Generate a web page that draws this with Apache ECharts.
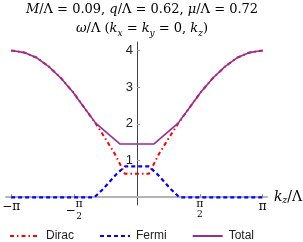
<!DOCTYPE html>
<html><head><meta charset="utf-8">
<script src="https://cdn.jsdelivr.net/npm/echarts@6/dist/echarts.min.js"></script>
<style>html,body{margin:0;padding:0;background:#fff}#c{width:303px;height:242px}</style>
</head><body><div id="c"></div>
<script>
var PI = Math.PI;
// k_z / Λ sample points and ω/Λ values
var diracK = [-PI, -2.8, -2.5, -2.2, -1.9, -1.6, -1.3, -1.03, -0.8, -0.55, -0.3, 0.3, 0.55, 0.8, 1.03, 1.3, 1.6, 1.9, 2.2, 2.5, 2.8, PI];
var diracW = [4.00, 3.94, 3.80, 3.56, 3.25, 2.87, 2.42, 2.01, 1.62, 1.18, 0.64, 0.64, 1.18, 1.62, 2.01, 2.42, 2.87, 3.25, 3.56, 3.80, 3.94, 4.00];
var fermiK = [-PI, -1.06, -0.85, -0.66, -0.5, -0.3, 0.3, 0.5, 0.66, 0.85, 1.06, PI];
var fermiW = [0, 0, 0.22, 0.45, 0.64, 0.84, 0.84, 0.64, 0.45, 0.22, 0, 0];
var totalK = [-PI, -2.8, -2.5, -2.2, -1.9, -1.6, -1.3, -1.03, -0.42, 0.42, 1.03, 1.3, 1.6, 1.9, 2.2, 2.5, 2.8, PI];
var totalW = [4.00, 3.94, 3.80, 3.56, 3.25, 2.87, 2.42, 2.02, 1.45, 1.45, 2.02, 2.42, 2.87, 3.25, 3.56, 3.80, 3.94, 4.00];
var xTicks = [-PI, -PI / 2, PI / 2, PI];
var xTickLabels = ['−π', '−π/2', 'π/2', 'π'];
var yTicks = [1, 2, 3, 4];
var seriesNames = ['Dirac', 'Fermi', 'Total'];
var titleText = '{i|M}{n|/Λ = 0.09, }{i|q}{n|/Λ = 0.62, }{i|μ}{n|/Λ = 0.72}\n{i|ω}{n|/Λ (}{i|k}{s|x}{n| = }{i|k}{s|y}{n| = 0, }{i|k}{s|z}{n|)}';

function pairs(k, w) { return k.map(function (v, i) { return [v, w[i]]; }); }

var serif = '"DejaVu Serif", "Liberation Serif", serif';
var sans = '"Liberation Sans", Arial, sans-serif';

function xLabel(v) {
  var idx = -1;
  for (var i = 0; i < xTicks.length; i++) if (Math.abs(xTicks[i] - v) < 1e-6) idx = i;
  if (idx < 0) return '';
  var t = xTickLabels[idx];
  if (t === '−π') return '{n|−π}';
  if (t === 'π') return '{n|π}';
  if (t === 'π/2') return '{f|π}\n{g| }\n{d|2}';
  return '{h|}{f|π}\n{m|−}{w|}\n{h|}{d|2}';
}

var chart = echarts.init(document.getElementById('c'), null, {renderer: 'canvas'});
chart.setOption({
  animation: false,
  title: {
    text: titleText,
    left: 142, top: 0, textAlign: 'center', padding: [0, 0, 0, 0],
    textStyle: {
      fontWeight: 'normal',
      rich: {
        n: {fontFamily: serif, fontSize: 13, fontWeight: 'normal', color: '#000', lineHeight: 19},
        i: {fontFamily: serif, fontSize: 13, fontWeight: 'normal', fontStyle: 'italic', color: '#000', lineHeight: 19},
        s: {fontFamily: serif, fontSize: 9, fontWeight: 'normal', fontStyle: 'italic', color: '#000', lineHeight: 19, verticalAlign: 'bottom'}
      }
    }
  },
  legend: {
    data: seriesNames,
    left: 4, top: 225,
    itemWidth: 30, itemHeight: 10, itemGap: 25,
    itemStyle: {opacity: 0},
    textStyle: {fontFamily: sans, fontSize: 12, color: '#222', padding: [0, 0, 0, 1]}
  },
  grid: {left: 6, right: 36, top: 42, bottom: 37, outerBoundsMode: 'none', containLabel: false},
  xAxis: {
    type: 'value', min: -3.27, max: 3.25, position: 'bottom', offset: -8,
    name: '{i|k}{s|z}{n|/Λ}', nameLocation: 'end', nameGap: 7,
    nameTextStyle: {
      rich: {
        i: {fontFamily: serif, fontSize: 14, fontStyle: 'italic', color: '#000'},
        s: {fontFamily: serif, fontSize: 9, fontStyle: 'italic', color: '#000', verticalAlign: 'bottom', padding: [8, 0, 0, 0]},
        n: {fontFamily: serif, fontSize: 14, color: '#000'}
      }
    },
    axisLine: {onZero: false, lineStyle: {color: '#b4b4b4', width: 2}},
    axisTick: {show: true, inside: true, length: 3, customValues: xTicks, lineStyle: {color: '#999'}},
    splitLine: {show: false},
    axisLabel: {
      customValues: xTicks, margin: 3, formatter: xLabel, lineHeight: 5,
      rich: {
        n: {fontFamily: serif, fontSize: 12, color: '#000', lineHeight: 14},
        f: {fontFamily: serif, fontSize: 11, color: '#000', lineHeight: 8},
        g: {fontFamily: serif, fontSize: 3, lineHeight: 3},
        d: {fontFamily: serif, fontSize: 9, color: '#000', lineHeight: 8},
        m: {fontFamily: serif, fontSize: 12, color: '#000', lineHeight: 5},
        h: {fontFamily: serif, fontSize: 3, width: 10, lineHeight: 3},
        w: {fontFamily: serif, fontSize: 3, width: 7, lineHeight: 3}
      }
    }
  },
  yAxis: {
    type: 'value', min: -0.21, max: 4.23, position: 'left', offset: -131,
    axisLine: {show: true, onZero: false, lineStyle: {color: '#444', width: 1}},
    axisTick: {show: true, inside: true, length: 3, customValues: yTicks, lineStyle: {color: '#999'}},
    splitLine: {show: false},
    axisLabel: {customValues: yTicks, margin: 4, fontFamily: sans, fontSize: 13, color: '#222'}
  },
  series: [
    {name: seriesNames[0], type: 'line', data: pairs(diracK, diracW), symbol: 'none', z: 3,
     lineStyle: {color: '#ff0000', width: 2, type: [4, 3, 1.5, 3]}, itemStyle: {color: '#ff0000'}},
    {name: seriesNames[1], type: 'line', data: pairs(fermiK, fermiW), symbol: 'none', z: 4,
     lineStyle: {color: '#0000ff', width: 2.2, type: [4, 3]}, itemStyle: {color: '#0000ff'}},
    {name: seriesNames[2], type: 'line', data: pairs(totalK, totalW), symbol: 'none', z: 5,
     lineStyle: {color: '#952d98', width: 1.6, type: 'solid'}, itemStyle: {color: '#952d98'}}
  ]
});
</script></body></html>
